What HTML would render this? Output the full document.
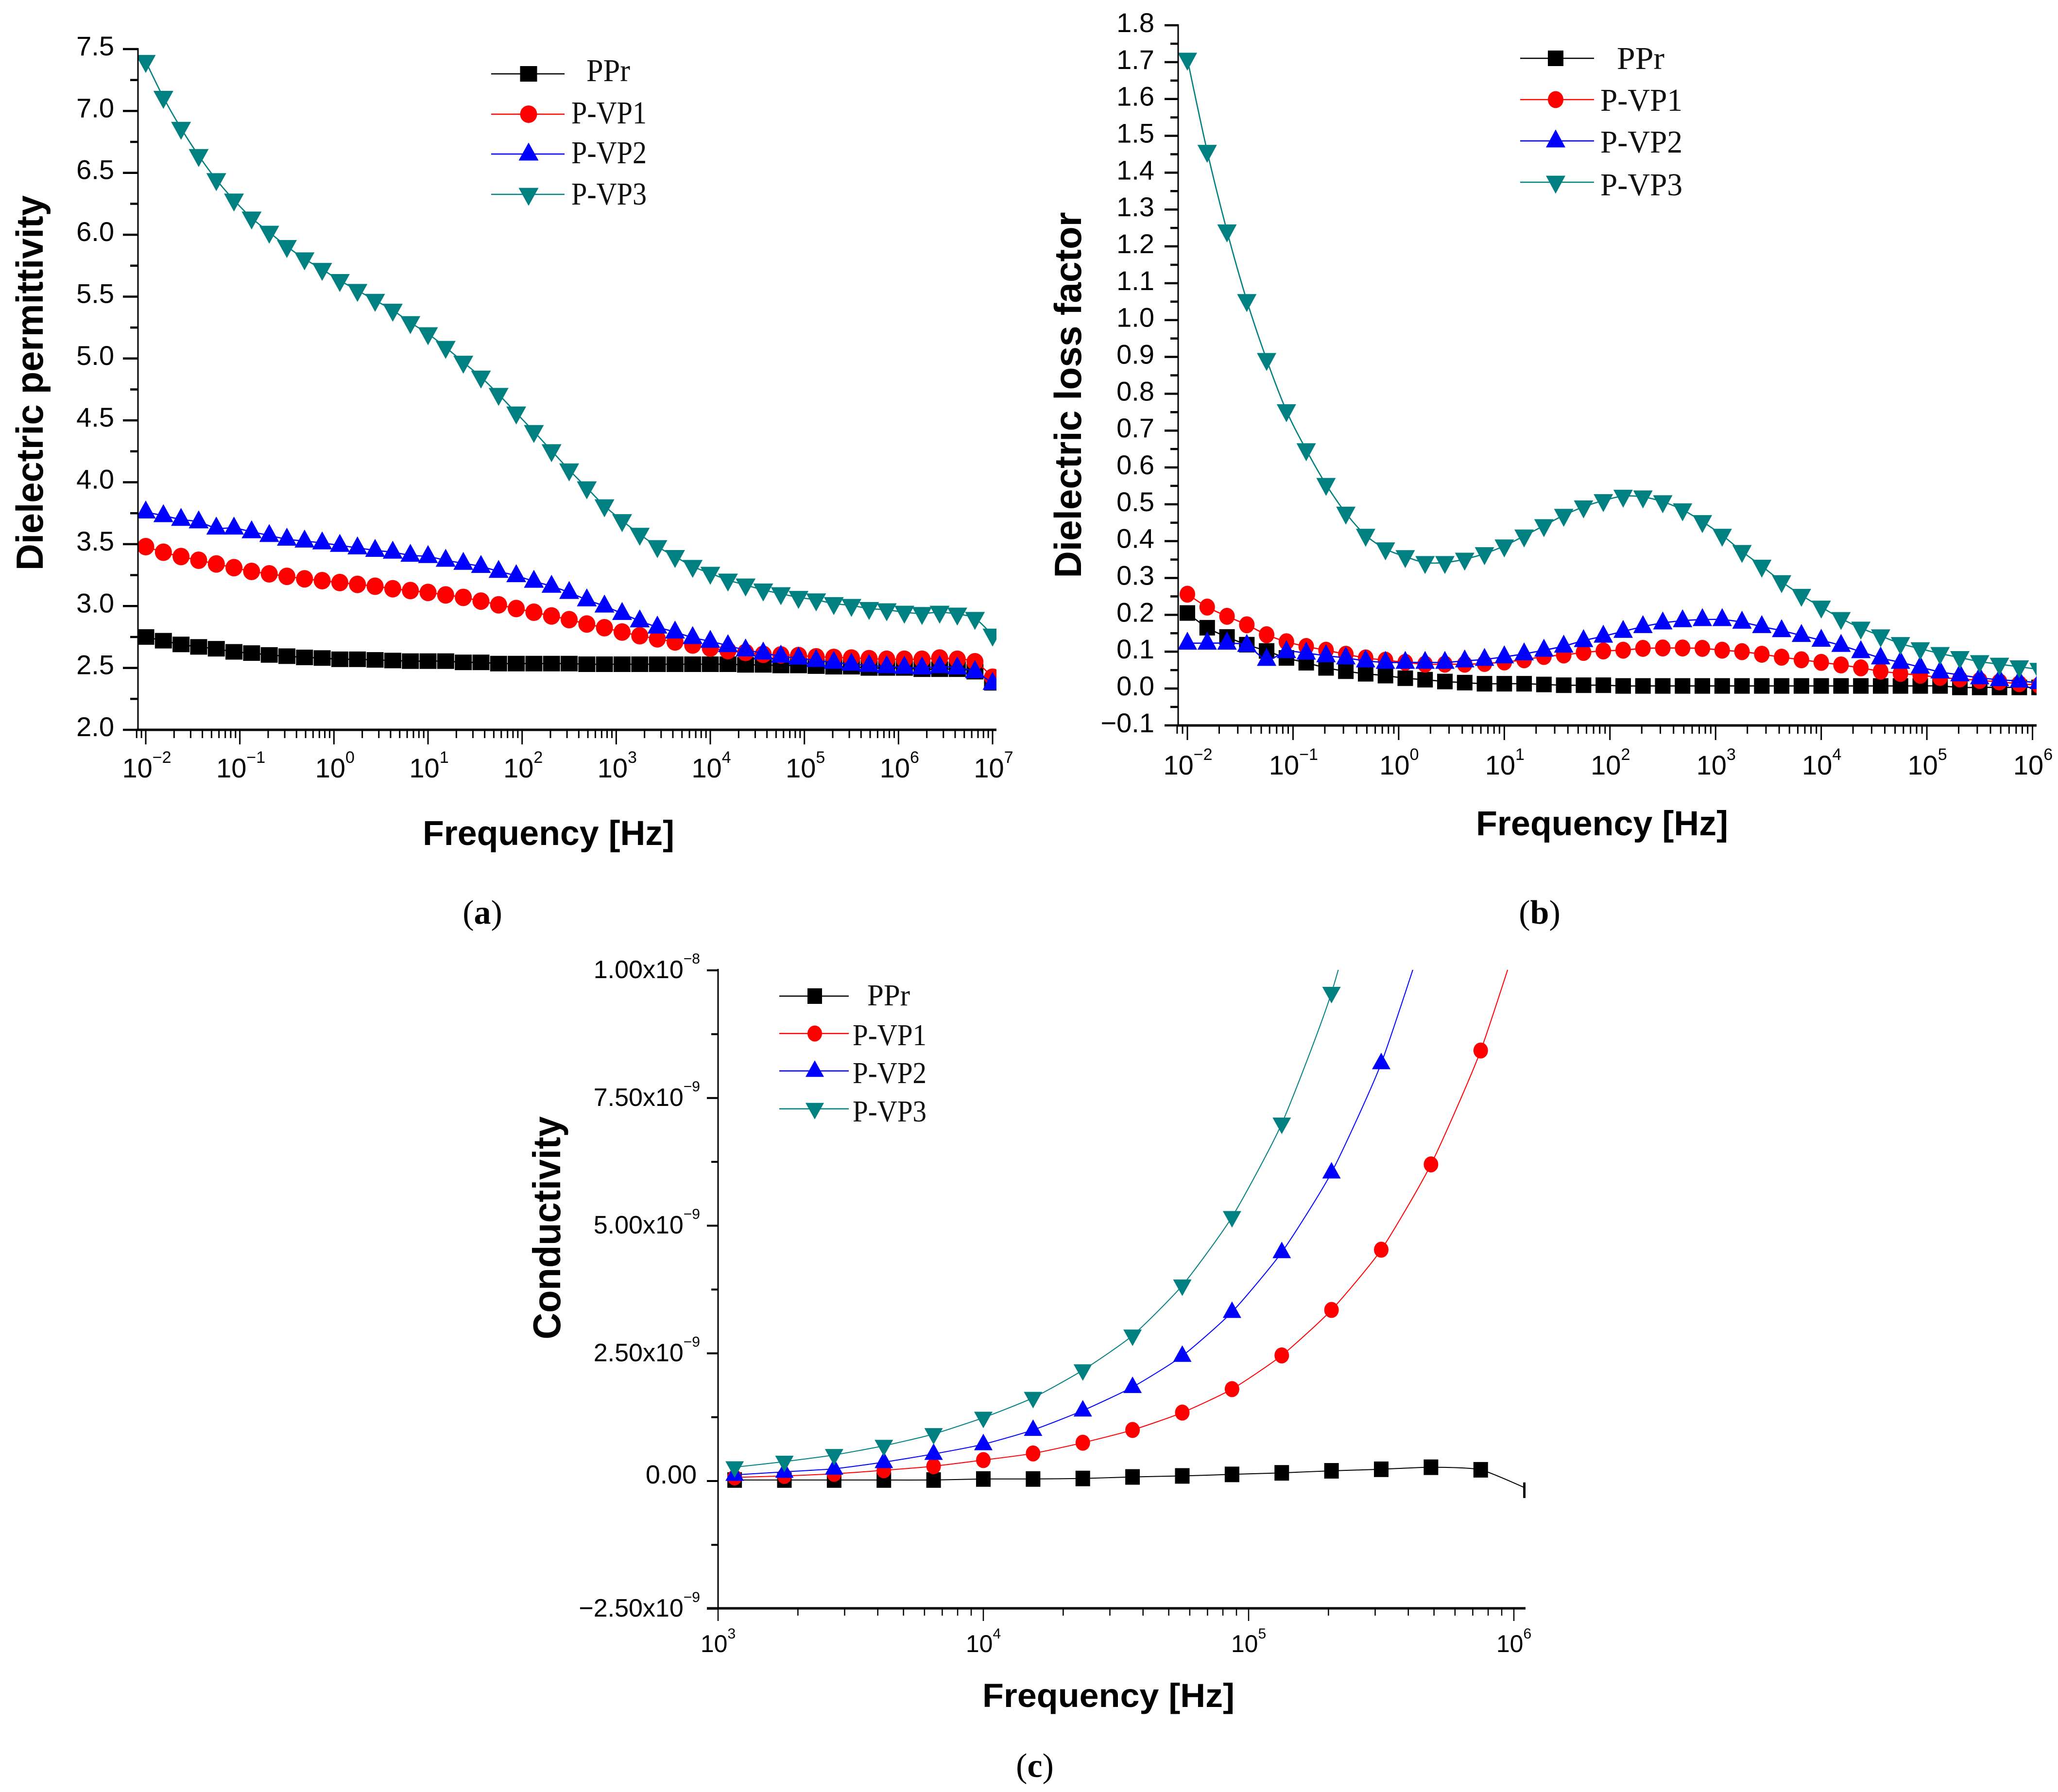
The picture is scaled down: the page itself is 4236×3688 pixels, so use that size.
<!DOCTYPE html>
<html lang="en">
<head>
<meta charset="utf-8">
<title>Dielectric properties of PPr and P-VP composites</title>
<style>
html,body{margin:0;padding:0;background:#fff;}
svg{display:block;}
text{fill:#000;}
.tick{font-family:"Liberation Sans",sans-serif;}
.title{font-family:"Liberation Sans",sans-serif;font-weight:bold;font-size:78px;}
.legend{font-family:"Liberation Serif",serif;font-size:66px;fill:#111;}
.cap{font-family:"Liberation Serif",serif;font-size:70px;}
</style>
</head>
<body>
<svg id="figure" xmlns="http://www.w3.org/2000/svg" width="4236" height="3688" viewBox="0 0 4236 3688">
<rect x="0" y="0" width="4236" height="3688" fill="#fff"/>
<defs>
<clipPath id="clip-a"><rect x="284" y="60" width="1767" height="1442"/></clipPath>
<clipPath id="clip-b"><rect x="2425" y="20" width="1767" height="1473"/></clipPath>
<clipPath id="clip-c"><rect x="1478" y="1996" width="1662" height="1314"/></clipPath>
</defs>

<g id="panel-a"></g>
<g id="panel-b"></g>
<g id="panel-c"></g>

<text class="title" transform="translate(88,788) rotate(-90)" text-anchor="middle" textLength="772" lengthAdjust="spacingAndGlyphs">Dielectric permittivity</text>
<text class="title" x="870" y="1739" style="font-size:71px" textLength="518" lengthAdjust="spacingAndGlyphs">Frequency [Hz]</text>
<text class="cap" x="993" y="1901" text-anchor="middle">(<tspan font-weight="bold">a</tspan>)</text>

<text class="title" transform="translate(2225,813) rotate(-90)" text-anchor="middle" textLength="753" lengthAdjust="spacingAndGlyphs">Dielectric loss factor</text>
<text class="title" x="3038" y="1719" style="font-size:71px" textLength="519" lengthAdjust="spacingAndGlyphs">Frequency [Hz]</text>
<text class="cap" x="3169" y="1901" text-anchor="middle">(<tspan font-weight="bold">b</tspan>)</text>

<text class="title" transform="translate(1153,2527) rotate(-90)" text-anchor="middle" style="font-size:80px" textLength="459" lengthAdjust="spacingAndGlyphs">Conductivity</text>
<text class="title" x="2022" y="3513" style="font-size:69px" textLength="519" lengthAdjust="spacingAndGlyphs">Frequency [Hz]</text>
<text class="cap" x="2130" y="3657" text-anchor="middle">(<tspan font-weight="bold">c</tspan>)</text>

<text class="legend" x="1207" y="167" textLength="90" lengthAdjust="spacingAndGlyphs">PPr</text>
<text class="legend" x="1176" y="254" textLength="155" lengthAdjust="spacingAndGlyphs">P-VP1</text>
<text class="legend" x="1176" y="336" textLength="155" lengthAdjust="spacingAndGlyphs">P-VP2</text>
<text class="legend" x="1176" y="421" textLength="155" lengthAdjust="spacingAndGlyphs">P-VP3</text>

<text class="legend" x="3328" y="142" textLength="98" lengthAdjust="spacingAndGlyphs">PPr</text>
<text class="legend" x="3294" y="228" textLength="169" lengthAdjust="spacingAndGlyphs">P-VP1</text>
<text class="legend" x="3294" y="314" textLength="169" lengthAdjust="spacingAndGlyphs">P-VP2</text>
<text class="legend" x="3294" y="402" textLength="169" lengthAdjust="spacingAndGlyphs">P-VP3</text>

<text class="legend" x="1785" y="2069" style="font-size:62px" textLength="88" lengthAdjust="spacingAndGlyphs">PPr</text>
<text class="legend" x="1755" y="2151" style="font-size:62px" textLength="152" lengthAdjust="spacingAndGlyphs">P-VP1</text>
<text class="legend" x="1755" y="2229" style="font-size:62px" textLength="152" lengthAdjust="spacingAndGlyphs">P-VP2</text>
<text class="legend" x="1755" y="2308" style="font-size:62px" textLength="152" lengthAdjust="spacingAndGlyphs">P-VP3</text>
</svg>

<script>
// ---- Data: log10(frequency) categories ----
const logFreqAB = [-2,-1.8125,-1.625,-1.4375,-1.25,-1.0625,-0.875,-0.6875,-0.5,-0.3125,-0.125,0.0625,0.25,0.4375,0.625,0.8125,1,1.1875,1.375,1.5625,1.75,1.9375,2.125,2.3125,2.5,2.6875,2.875,3.0625,3.25,3.4375,3.625,3.8125,4,4.1875,4.375,4.5625,4.75,4.9375,5.125,5.3125,5.5,5.6875,5.875,6.0625,6.25,6.4375,6.625,6.8125,7];
const logFreqC = [3.0625,3.25,3.4375,3.625,3.8125,4,4.1875,4.375,4.5625,4.75,4.9375,5.125,5.3125,5.5,5.6875,5.875,6.0625];

// ---- Panel (a) Dielectric permittivity ----
const pprA = [2.75,2.72,2.69,2.67,2.655,2.63,2.62,2.605,2.595,2.585,2.58,2.57,2.57,2.565,2.56,2.555,2.555,2.555,2.545,2.545,2.535,2.535,2.535,2.535,2.535,2.53,2.53,2.53,2.53,2.53,2.53,2.53,2.53,2.53,2.525,2.525,2.52,2.52,2.515,2.51,2.51,2.5,2.5,2.5,2.49,2.49,2.49,2.47,2.38];
const vp1A = [3.48,3.435,3.4,3.37,3.34,3.31,3.28,3.26,3.24,3.22,3.205,3.19,3.175,3.16,3.14,3.125,3.11,3.09,3.07,3.04,3.01,2.98,2.95,2.92,2.89,2.855,2.825,2.79,2.76,2.735,2.71,2.685,2.66,2.64,2.625,2.61,2.605,2.6,2.59,2.585,2.58,2.575,2.57,2.57,2.57,2.58,2.57,2.55,2.425];
const vp2A = [3.76,3.73,3.7,3.68,3.63,3.63,3.6,3.57,3.54,3.525,3.51,3.49,3.47,3.45,3.435,3.41,3.4,3.37,3.345,3.32,3.28,3.245,3.2,3.16,3.11,3.05,3,2.94,2.88,2.83,2.79,2.745,2.715,2.68,2.645,2.62,2.595,2.58,2.56,2.545,2.53,2.52,2.51,2.505,2.5,2.51,2.5,2.47,2.375];
const vp3A = [7.4,7.11,6.86,6.64,6.445,6.28,6.135,6.02,5.905,5.805,5.72,5.63,5.55,5.47,5.39,5.29,5.2,5.09,4.97,4.85,4.71,4.56,4.41,4.255,4.1,3.955,3.81,3.69,3.58,3.48,3.4,3.32,3.265,3.21,3.17,3.13,3.1,3.07,3.05,3.02,3.005,2.98,2.97,2.95,2.94,2.95,2.935,2.9,2.765];
const yTicksA = ['2.0','2.5','3.0','3.5','4.0','4.5','5.0','5.5','6.0','6.5','7.0','7.5'];
const xExpsA = ['−2','−1','0','1','2','3','4','5','6','7'];

// ---- Panel (b) Dielectric loss factor ----
const pprB = [0.205,0.165,0.14,0.119,0.102,0.083,0.07,0.056,0.047,0.04,0.035,0.028,0.024,0.019,0.016,0.013,0.013,0.013,0.011,0.009,0.009,0.009,0.007,0.007,0.007,0.007,0.007,0.007,0.007,0.007,0.007,0.007,0.007,0.007,0.007,0.007,0.007,0.007,0.007,0.003,0.003,0.003,0.003,0.003];
const vp1B = [0.256,0.221,0.196,0.173,0.146,0.127,0.114,0.104,0.093,0.083,0.077,0.071,0.066,0.066,0.066,0.068,0.072,0.078,0.087,0.091,0.098,0.102,0.104,0.109,0.11,0.11,0.109,0.104,0.1,0.093,0.085,0.078,0.071,0.064,0.056,0.047,0.041,0.036,0.03,0.026,0.022,0.018,0.013,0.009];
const vp2B = [0.123,0.123,0.123,0.117,0.079,0.1,0.096,0.089,0.083,0.075,0.071,0.071,0.071,0.071,0.075,0.079,0.086,0.094,0.104,0.115,0.13,0.142,0.155,0.168,0.178,0.184,0.187,0.187,0.18,0.168,0.157,0.144,0.131,0.117,0.1,0.083,0.071,0.058,0.045,0.037,0.029,0.024,0.02,0.016];
const vp3B = [1.708,1.458,1.242,1.053,0.893,0.754,0.648,0.554,0.476,0.416,0.379,0.358,0.342,0.342,0.351,0.366,0.387,0.414,0.442,0.47,0.493,0.51,0.522,0.52,0.507,0.485,0.453,0.416,0.372,0.332,0.29,0.253,0.221,0.19,0.164,0.143,0.122,0.108,0.095,0.084,0.073,0.066,0.059,0.052];
const yTicksB = ['−0.1','0.0','0.1','0.2','0.3','0.4','0.5','0.6','0.7','0.8','0.9','1.0','1.1','1.2','1.3','1.4','1.5','1.6','1.7','1.8'];
const xExpsB = ['−2','−1','0','1','2','3','4','5','6'];

// ---- Panel (c) Conductivity (values in units of 1e-9) ----
const pprC = [0.02,0.02,0.02,0.02,0.02,0.04,0.04,0.05,0.08,0.1,0.13,0.16,0.2,0.23,0.27,0.22,-0.18];
const vp1C = [0.07,0.1,0.14,0.21,0.29,0.41,0.54,0.75,1.0,1.34,1.8,2.46,3.35,4.53,6.2,8.43,11.4];
const vp2C = [0.12,0.18,0.24,0.37,0.53,0.72,1.0,1.38,1.84,2.45,3.31,4.48,6.04,8.18,11.1];
const vp3C = [0.27,0.38,0.51,0.69,0.92,1.24,1.63,2.17,2.85,3.83,5.17,7.0,9.56,13.1];
const yTickValuesC = [-2.5,0,2.5,5,7.5,10];
const yTickMantissasC = ['−2.50','0.00','2.50','5.00','7.50','1.00'];
const yTickExpsC = ['−9','','−9','−9','−9','−8'];
const xExpsC = ['3','4','5','6'];

const NS = 'http://www.w3.org/2000/svg';
function make(parent, tag, attrs) {
  const el = document.createElementNS(NS, tag);
  for (const k in attrs) el.setAttribute(k, attrs[k]);
  parent.appendChild(el);
  return el;
}
function smoothPath(pts, soft) {
  let d = 'M' + pts[0][0].toFixed(1) + ' ' + pts[0][1].toFixed(1);
  for (let i = 0; i < pts.length - 1; i++) {
    const p0 = pts[Math.max(i - 1, 0)], p1 = pts[i], p2 = pts[i + 1], p3 = pts[Math.min(i + 2, pts.length - 1)];
    const c1x = p1[0] + (p2[0] - p0[0]) * soft, c1y = p1[1] + (p2[1] - p0[1]) * soft;
    const c2x = p2[0] - (p3[0] - p1[0]) * soft, c2y = p2[1] - (p3[1] - p1[1]) * soft;
    d += 'C' + c1x.toFixed(1) + ' ' + c1y.toFixed(1) + ' ' + c2x.toFixed(1) + ' ' + c2y.toFixed(1) + ' ' + p2[0].toFixed(1) + ' ' + p2[1].toFixed(1);
  }
  return d;
}
function drawMarker(g, kind, color, x, y, s) {
  if (kind === 'square') {
    return make(g, 'rect', {x: x - s.sw / 2, y: y - s.sh / 2, width: s.sw, height: s.sh, fill: color});
  }
  if (kind === 'circle') {
    return make(g, 'ellipse', {cx: x, cy: y, rx: s.cw / 2, ry: s.ch / 2, fill: color});
  }
  const w = s.tw / 2, up = s.th * 0.64, down = s.th * 0.36;
  if (kind === 'up') {
    return make(g, 'polygon', {points: (x - w) + ',' + (y + down) + ' ' + (x + w) + ',' + (y + down) + ' ' + x + ',' + (y - up), fill: color});
  }
  return make(g, 'polygon', {points: (x - w) + ',' + (y - down) + ' ' + (x + w) + ',' + (y - down) + ' ' + x + ',' + (y + up), fill: color});
}

const seriesStyle = [
  {key: 'ppr', color: '#000000', kind: 'square'},
  {key: 'vp1', color: '#ff0000', kind: 'circle'},
  {key: 'vp2', color: '#0000ff', kind: 'up'},
  {key: 'vp3', color: '#008080', kind: 'down'}
];

function drawSeries(root, id, clip, logF, seriesList, xScale, yScale, size, soft, lineW) {
  const plot = make(root, 'g', {'clip-path': 'url(#' + clip + ')'});
  
  
  seriesList.forEach(function (values, si) {
    const st = seriesStyle[si];
    const pts = values.map(function (v, i) { return [xScale(logF[i]), yScale(v)]; });
    const g = make(plot, 'g', {});
    
    
    const line = make(g, 'path', {d: smoothPath(pts, soft), fill: 'none', stroke: st.color, 'stroke-width': lineW});
    
    
    pts.forEach(function (p) {
      const m = drawMarker(g, st.kind, st.color, p[0], p[1], size);
      
      
    });
  });
}

function drawLegend(root, id, lx1, lx2, mx, ys, size) {
  seriesStyle.forEach(function (st, i) {
    const g = make(root, 'g', {});
    
    
    make(g, 'line', {x1: lx1, x2: lx2, y1: ys[i], y2: ys[i], stroke: st.color, 'stroke-width': 2.4});
    drawMarker(g, st.kind, st.color, mx, ys[i], size);
  });
}

function tickLine(g, x1, y1, x2, y2, w) {
  const t = make(g, 'line', {x1: x1, y1: y1, x2: x2, y2: y2, stroke: '#000', 'stroke-width': w});
  
  
}

function pow10Label(g, x, y, exp, fs, supFs, supRise) {
  const t = make(g, 'text', {x: x, y: y, 'text-anchor': 'middle', 'class': 'tick', 'font-size': fs});
  
  
  const a = make(t, 'tspan', {});
  a.textContent = '10';
  const b = make(t, 'tspan', {dy: -supRise, 'font-size': supFs});
  b.textContent = exp;
}

function xLogAxis(g, exps, xScale, axisLeft, axisRight, yAxis, majorLen, minorLen, lw, labelY, fs, supFs, supRise, labelDx) {
  make(g, 'line', {x1: axisLeft, y1: yAxis, x2: axisRight, y2: yAxis, stroke: '#000', 'stroke-width': 5});
  const firstDec = parseInt(exps[0].replace('−', '-'), 10);
  exps.forEach(function (e, i) {
    const dec = firstDec + i;
    const px = xScale(dec);
    tickLine(g, px, yAxis, px, yAxis + majorLen, lw);
    pow10Label(g, px + labelDx, labelY, e, fs, supFs, supRise);
    for (let d = dec - 1; d <= dec; d++) {
      for (let m = 2; m <= 9; m++) {
        const mx = xScale(d + Math.log10(m));
        if (mx >= axisLeft - 1 && mx <= axisRight && (d === dec - 1 ? i === 0 : true)) {
          tickLine(g, mx, yAxis, mx, yAxis + minorLen, lw);
        }
      }
    }
  });
}

// ---- Panel A ----
(function () {
  const root = document.getElementById('panel-a');
  const xScale = function (lf) { return 300 + (lf + 2) * 193.67; };
  const yScale = function (v) { return 1502 - (v - 2) * 254.73; };
  const size = {sw: 35, sh: 32, cw: 35, ch: 36, tw: 41, th: 37};
  drawSeries(root, 'a', 'clip-a', logFreqAB, [pprA, vp1A, vp2A, vp3A], xScale, yScale, size, 1 / 6, 2.6);
  const axes = make(root, 'g', {});
  
  
  make(axes, 'line', {x1: 284, y1: 99, x2: 284, y2: 1504, stroke: '#000', 'stroke-width': 3});
  yTicksA.forEach(function (lab, i) {
    const v = parseFloat(lab);
    const y = yScale(v);
    tickLine(axes, 253, y, 284, y, 4.5);
    const t = make(axes, 'text', {x: 235, y: y + 13, 'text-anchor': 'end', 'class': 'tick', 'font-size': 56});
    
    
    t.textContent = lab;
    if (i < yTicksA.length - 1) tickLine(axes, 268, yScale(v + 0.25), 284, yScale(v + 0.25), 4.5);
  });
  xLogAxis(axes, xExpsA, xScale, 282, 2051, 1502, 30, 17, 3, 1600, 56, 34, 30, 2);
  drawLegend(root, 'a', 1011, 1162, 1088, [152, 235, 317, 400], size);
})();

// ---- Panel B ----
(function () {
  const root = document.getElementById('panel-b');
  const xScale = function (lf) { return 2444 + (lf + 2) * 217.44; };
  const yScale = function (v) { return 1417 - v * 758.3; };
  const size = {sw: 32, sh: 32, cw: 32, ch: 35, tw: 40, th: 37};
  drawSeries(root, 'b', 'clip-b', logFreqAB, [pprB, vp1B, vp2B, vp3B], xScale, yScale, size, 1 / 6, 2.6);
  const axes = make(root, 'g', {});
  
  
  make(axes, 'line', {x1: 2425, y1: 50, x2: 2425, y2: 1495, stroke: '#000', 'stroke-width': 3});
  yTicksB.forEach(function (lab, i) {
    const v = parseFloat(lab.replace('−', '-'));
    const y = yScale(v);
    tickLine(axes, 2397, y, 2425, y, 4.5);
    const t = make(axes, 'text', {x: 2376, y: y + 14, 'text-anchor': 'end', 'class': 'tick', 'font-size': 56});
    
    
    t.textContent = lab;
    if (i < yTicksB.length - 1) tickLine(axes, 2409, yScale(v + 0.05), 2425, yScale(v + 0.05), 4.5);
  });
  xLogAxis(axes, xExpsB, xScale, 2423, 4192, 1493, 30, 17, 3, 1594, 56, 34, 30, 1);
  drawLegend(root, 'b', 3129, 3281, 3202, [120, 205, 290, 375], size);
})();

// ---- Panel C ----
(function () {
  const root = document.getElementById('panel-c');
  const xScale = function (lf) { return 1478 + (lf - 3) * 546; };
  const yScale = function (v) { return 3048 - v * 105.1; };
  const size = {sw: 30, sh: 32, cw: 30, ch: 33, tw: 38, th: 34};
  drawSeries(root, 'c', 'clip-c', logFreqC, [pprC, vp1C, vp2C, vp3C], xScale, yScale, size, 1 / 10, 2);
  const axes = make(root, 'g', {});
  
  
  make(axes, 'line', {x1: 1478, y1: 1994, x2: 1478, y2: 3312, stroke: '#000', 'stroke-width': 3});
  yTickValuesC.forEach(function (v, i) {
    const y = yScale(v);
    tickLine(axes, 1455, y, 1478, y, 4);
    if (i < yTickValuesC.length - 1) tickLine(axes, 1464, yScale(v + 1.25), 1478, yScale(v + 1.25), 4);
    const hasExp = yTickExpsC[i] !== '';
    const t = make(axes, 'text', {x: hasExp ? 1441 : 1434, y: y + (hasExp ? 16 : 5), 'text-anchor': 'end', 'class': 'tick', 'font-size': hasExp ? 52 : 54});
    
    
    const a = make(t, 'tspan', {});
    a.textContent = hasExp ? yTickMantissasC[i] + 'x10' : yTickMantissasC[i];
    if (hasExp) {
      const b = make(t, 'tspan', {dy: -30, 'font-size': 30});
      b.textContent = yTickExpsC[i];
    }
  });
  xLogAxis(axes, xExpsC, xScale, 1455, 3140, 3310, 26, 15, 2.5, 3400, 50, 30, 28, 0);
  drawLegend(root, 'c', 1604, 1747, 1677, [2050, 2127, 2204, 2282], size);
})();
</script>
</body>
</html>
